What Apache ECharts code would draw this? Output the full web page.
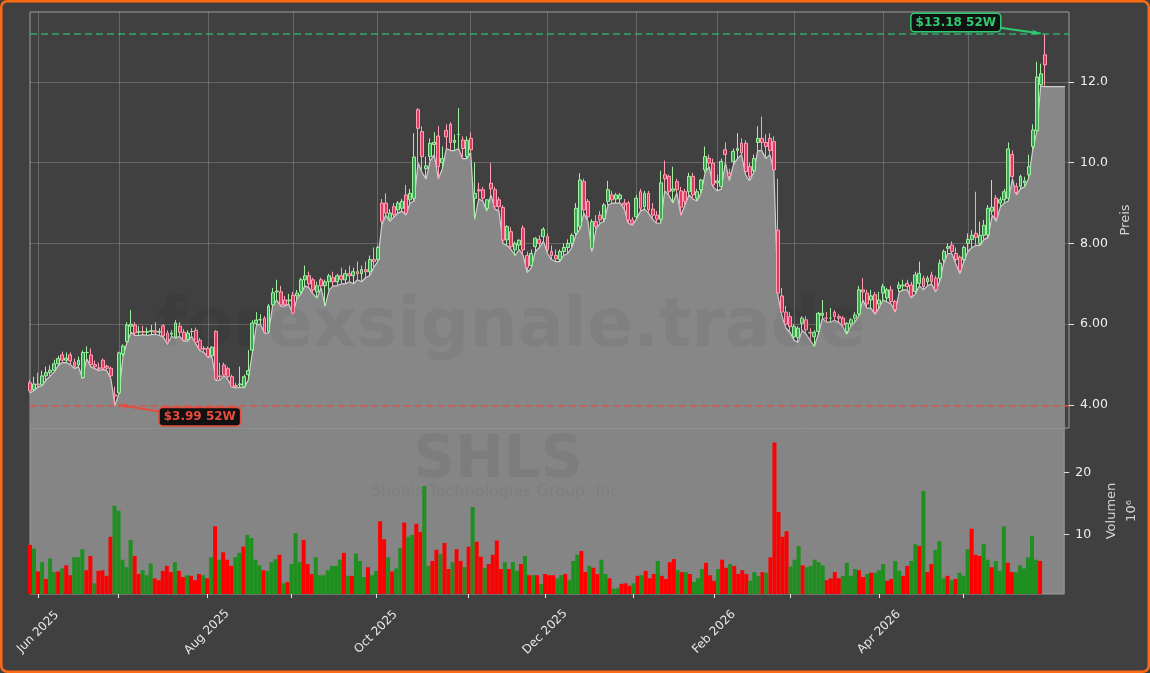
<!DOCTYPE html>
<html><head><meta charset="utf-8">
<script src="https://cdn.jsdelivr.net/npm/echarts@6/dist/echarts.min.js"></script>
<style>html,body{margin:0;padding:0;background:#404040;}#c{width:1150px;height:673px;}</style>
</head><body><div id="c"></div>
<script>
// ---------- data ----------
const opens = [
4.55,4.38,4.52,4.50,4.72,4.80,4.86,5.02,5.24,5.11,
5.24,5.06,4.99,4.68,5.30,5.24,5.00,4.92,5.11,4.96,
4.91,4.25,4.30,5.26,5.57,5.95,5.98,5.80,5.82,5.80,
5.82,5.84,5.80,5.96,5.78,5.75,5.68,5.95,5.80,5.62,
5.82,5.85,5.60,5.40,5.40,5.22,5.82,4.72,4.99,4.90,
4.70,4.48,4.50,4.45,4.75,5.36,6.02,6.11,6.15,5.82,
6.48,6.80,6.80,6.60,6.58,6.72,6.70,6.80,7.10,7.20,
7.10,6.80,7.10,6.95,7.05,7.15,7.05,7.20,7.10,7.25,
7.20,7.30,7.25,7.35,7.30,7.60,7.60,9.00,9.00,8.62,
8.91,8.83,8.87,9.20,9.08,9.12,11.31,10.77,9.85,10.15,
10.45,10.66,10.00,10.80,10.95,10.50,10.70,10.56,10.15,10.60,
9.12,9.33,9.33,8.87,9.49,9.33,9.08,8.89,8.09,8.29,
7.84,7.96,8.38,7.70,7.45,7.92,8.10,8.17,8.17,7.80,
7.70,7.60,7.80,7.90,8.00,8.25,8.42,9.53,9.04,7.88,
8.54,8.70,8.62,9.04,9.20,9.10,9.10,9.00,9.00,8.58,
8.66,9.28,8.91,9.24,8.85,8.70,8.60,9.70,9.66,9.30,
9.53,9.30,9.28,9.28,9.66,9.12,9.33,9.82,10.11,9.99,
9.50,9.41,10.32,9.74,10.03,10.30,10.48,10.48,9.90,9.80,
10.50,10.60,10.50,10.60,10.52,8.33,6.70,6.30,6.19,5.69,
5.67,6.02,6.11,5.80,5.69,5.82,6.22,6.15,6.15,6.30,
6.19,6.15,5.82,6.02,6.15,6.25,6.85,6.77,6.60,6.73,
6.50,6.77,6.65,6.85,6.56,6.89,6.95,7.01,6.97,6.81,
7.01,7.14,7.05,7.22,7.14,7.14,7.59,7.88,7.96,7.75,
7.66,7.60,8.00,8.10,8.25,8.00,8.20,8.21,8.80,9.12,
9.00,9.08,9.12,10.20,9.41,9.41,9.50,9.70,10.40,10.79,
11.93,12.67];
const highs = [
4.62,4.70,4.80,4.85,4.95,4.98,5.12,5.22,5.32,5.30,
5.30,5.15,5.20,5.35,5.45,5.40,5.10,5.05,5.15,5.00,
4.95,4.45,5.32,5.50,6.05,6.35,6.05,5.95,5.96,5.92,
5.98,6.05,5.90,6.00,5.85,5.85,6.10,6.05,5.88,5.85,
5.90,5.92,5.66,5.46,5.45,5.46,5.85,5.05,5.05,4.95,
4.75,4.55,4.95,4.75,5.36,6.10,6.30,6.25,6.20,6.50,
6.90,7.10,6.95,6.70,6.75,6.80,6.85,7.15,7.45,7.30,
7.15,7.05,7.15,7.10,7.25,7.30,7.25,7.40,7.35,7.45,
7.40,7.55,7.45,7.55,7.70,7.90,7.95,9.10,9.24,8.85,
9.00,9.05,9.10,9.45,9.35,10.73,11.35,10.90,10.15,10.60,
10.75,10.90,10.40,10.95,11.00,10.70,11.35,10.65,10.65,10.75,
10.00,9.50,9.40,9.10,9.99,9.40,9.15,8.95,8.45,8.40,
8.05,8.10,8.45,7.80,7.85,8.15,8.20,8.40,8.25,7.95,
7.85,7.85,8.00,8.10,8.25,9.00,9.74,9.60,9.10,8.60,
8.70,8.80,9.00,9.55,9.30,9.25,9.25,9.10,9.05,8.65,
9.20,9.35,9.30,9.30,9.00,8.80,9.80,10.05,9.70,9.90,
9.60,9.40,9.35,9.75,9.75,9.35,9.60,10.40,10.20,10.10,
9.70,10.10,10.50,9.85,10.35,10.73,10.60,10.55,10.00,10.20,
10.90,11.14,10.70,10.73,10.65,9.60,6.90,6.45,6.30,6.00,
5.95,6.20,6.20,5.90,5.85,6.30,6.60,6.30,6.40,6.35,
6.25,6.20,6.05,6.15,6.30,6.95,7.14,6.85,6.85,6.80,
6.80,7.00,6.90,6.95,6.60,7.05,7.10,7.10,7.05,7.30,
7.55,7.20,7.20,7.30,7.20,7.60,7.85,8.00,8.05,7.90,
7.70,7.95,8.25,8.33,9.28,8.54,8.58,8.95,9.57,9.20,
9.15,9.35,10.50,10.30,9.50,9.70,9.65,10.20,10.95,12.50,
12.45,13.18];
const lows = [
4.30,4.36,4.45,4.48,4.62,4.72,4.82,4.98,5.05,5.05,
5.00,4.90,4.95,4.65,5.15,4.95,4.90,4.85,4.88,4.85,
4.65,3.99,4.28,5.20,5.55,5.80,5.72,5.72,5.74,5.72,
5.74,5.75,5.72,5.68,5.50,5.70,5.65,5.70,5.58,5.58,
5.70,5.52,5.35,5.30,5.18,5.20,4.60,4.62,4.72,4.62,
4.45,4.42,4.44,4.42,4.62,5.30,5.98,6.00,5.78,5.78,
6.45,6.60,6.45,6.45,6.50,6.25,6.62,6.75,6.95,6.90,
6.75,6.65,6.90,6.45,6.85,6.95,6.95,7.00,7.00,7.05,
7.00,7.10,7.05,7.15,7.20,7.40,7.55,8.45,8.70,8.55,
8.65,8.75,8.80,8.70,9.00,9.05,10.00,9.75,9.60,10.05,
10.20,9.60,9.85,10.35,10.30,10.30,10.35,10.10,10.10,10.25,
8.60,9.10,9.05,8.80,9.20,8.85,8.80,8.00,7.95,7.85,
7.70,7.85,7.70,7.28,7.40,7.80,7.90,8.05,7.75,7.60,
7.55,7.55,7.70,7.75,7.90,8.20,8.35,8.75,8.55,7.80,
8.35,8.50,8.55,8.95,9.00,9.00,9.00,8.85,8.50,8.45,
8.60,8.80,8.85,8.75,8.60,8.50,8.50,9.30,9.20,9.00,
9.25,8.70,8.95,9.20,9.10,9.05,9.25,9.75,9.90,9.40,
9.30,9.35,10.00,9.55,9.95,10.10,10.20,9.70,9.55,9.75,
10.30,10.30,10.10,10.20,9.80,6.70,6.20,5.90,5.80,5.60,
5.55,5.85,5.75,5.60,5.45,5.75,6.15,6.05,6.05,6.10,
6.05,5.95,5.75,5.95,6.05,6.20,6.60,6.40,6.40,6.25,
6.40,6.60,6.55,6.50,6.30,6.80,6.85,6.85,6.65,6.75,
6.95,6.85,6.95,7.00,6.80,7.05,7.50,7.75,7.75,7.50,
7.25,7.55,7.80,7.90,7.95,7.95,8.10,8.15,8.70,8.55,
8.90,9.00,9.05,9.60,9.20,9.35,9.40,9.60,10.30,10.75,
11.90,11.88];
const closes = [
4.35,4.52,4.50,4.72,4.80,4.86,5.02,5.15,5.11,5.16,
5.09,4.96,5.11,5.30,5.30,5.00,4.95,4.90,4.91,4.91,
4.72,4.22,5.29,5.46,5.98,6.00,5.78,5.82,5.80,5.82,
5.84,5.80,5.82,5.71,5.55,5.78,6.03,5.80,5.60,5.78,
5.82,5.55,5.38,5.38,5.20,5.43,4.64,4.70,4.74,4.70,
4.45,4.46,4.52,4.70,4.85,6.03,6.10,6.11,5.80,6.45,
6.78,6.82,6.48,6.48,6.60,6.28,6.77,7.10,7.20,7.00,
6.85,6.95,6.95,7.05,7.20,7.05,7.20,7.10,7.25,7.20,
7.30,7.25,7.35,7.30,7.60,7.55,7.90,8.55,8.75,8.75,
8.71,9.00,9.04,8.75,9.24,10.14,10.85,10.15,9.92,10.48,
10.50,9.90,10.10,10.64,10.50,10.55,10.70,10.35,10.55,10.32,
9.24,9.30,9.12,9.08,9.35,8.91,8.91,8.08,8.42,7.92,
8.00,8.08,7.84,7.40,7.75,8.13,8.00,8.35,7.84,7.70,
7.62,7.80,7.90,8.00,8.20,8.87,9.57,8.83,8.66,8.54,
8.42,8.58,8.95,9.33,9.08,9.20,9.20,8.95,8.58,8.50,
9.12,8.87,9.24,8.83,8.70,8.60,9.50,9.60,9.28,9.35,
9.33,8.90,9.04,9.66,9.20,9.28,9.57,10.15,9.99,9.45,
9.55,10.03,10.20,9.66,10.28,10.35,10.24,9.78,9.66,10.10,
10.60,10.50,10.40,10.30,9.82,6.77,6.30,6.00,5.94,5.94,
5.90,6.15,5.86,5.78,5.80,6.27,6.27,6.15,6.15,6.19,
6.15,5.98,6.02,6.11,6.23,6.85,6.80,6.50,6.70,6.30,
6.60,6.93,6.85,6.56,6.36,6.97,6.97,6.93,6.69,7.22,
7.26,6.93,7.14,7.05,6.85,7.51,7.80,7.92,7.80,7.60,
7.33,7.90,8.10,8.20,8.15,8.20,8.45,8.87,8.90,8.63,
9.08,9.28,10.34,9.66,9.26,9.66,9.55,9.90,10.81,12.12,
12.20,12.42];
// low line keeps its last level for a few sessions after the last candle
const lowTail = [11.88, 11.88, 11.88, 11.88, 11.88];
// volume in millions
const volumes = [
8.3,7.7,4.0,5.5,2.8,6.1,3.9,4.0,4.5,5.0,
3.4,6.3,6.3,7.6,4.2,6.5,2.1,4.1,4.2,3.3,
9.6,14.6,13.8,5.9,4.7,9.1,6.5,3.6,4.2,3.4,
5.3,2.9,2.6,4.1,4.9,3.9,5.5,4.1,3.1,3.4,
3.3,2.6,3.6,3.4,2.9,6.3,11.3,5.9,7.1,5.9,
4.9,6.3,7.0,8.0,9.9,9.4,5.9,5.0,4.2,4.1,
5.5,6.0,6.7,2.1,2.3,5.2,10.2,5.5,9.1,5.2,
3.6,6.3,3.4,3.4,4.2,4.9,4.9,5.9,7.0,3.3,
3.3,6.9,5.7,3.1,4.7,3.4,4.1,12.1,9.2,6.3,
4.0,4.5,7.8,11.9,9.6,9.9,11.7,10.4,17.8,4.9,
5.7,7.5,6.8,8.6,4.4,5.5,7.6,5.7,4.7,8.0,
14.4,8.8,6.4,4.6,5.2,6.7,9.0,4.4,5.5,4.4,
5.5,4.1,5.2,6.5,3.4,3.4,3.4,2.0,3.6,3.4,
3.4,2.9,3.4,3.6,2.6,5.7,6.7,7.3,3.9,4.9,
4.6,3.6,5.9,3.6,2.9,1.2,1.3,2.0,2.1,1.7,
2.1,3.3,3.4,4.1,2.9,3.6,5.7,3.3,2.8,5.5,
6.0,4.2,3.9,3.9,3.6,2.3,2.9,4.4,5.4,3.4,
2.5,4.4,5.9,4.6,5.2,4.9,3.6,4.2,3.6,2.5,
3.9,3.3,3.9,3.8,6.3,24.8,13.6,9.6,10.5,4.8,
5.9,8.1,5.0,4.7,4.9,5.9,5.5,5.0,2.6,2.9,
3.9,2.9,3.3,5.4,3.3,4.4,4.2,3.1,3.6,3.8,
3.8,4.2,5.2,2.5,2.8,5.7,4.1,3.3,4.9,5.7,
8.4,8.1,17.0,3.9,5.2,7.5,8.9,2.9,3.3,2.6,
2.8,3.8,3.3,7.6,10.9,6.7,6.5,8.4,5.9,4.7,
5.7,4.1,11.3,5.4,3.9,3.9,5.0,4.5,6.3,9.7,
5.9,5.7];
// 1 = green bar, 0 = red bar
const volumeUp = [
0,1,0,1,0,1,1,0,1,0,
0,1,1,1,0,0,1,0,0,0,
0,1,1,1,1,1,0,0,1,1,
1,0,0,0,0,0,1,0,0,1,
0,0,0,1,0,1,0,1,0,0,
0,1,1,0,1,1,1,1,0,1,
1,1,0,1,0,1,1,1,0,0,
0,1,1,1,1,1,1,1,0,1,
0,1,1,1,0,1,1,0,0,1,
0,1,1,0,1,1,0,0,1,1,
0,0,1,0,0,1,0,0,1,0,
1,0,0,1,0,0,0,0,1,0,
1,1,0,1,0,1,0,1,0,0,
0,1,1,0,1,1,1,0,0,1,
0,0,1,1,0,1,1,0,0,0,
1,0,1,0,0,0,1,0,0,0,
0,1,0,1,0,1,1,1,0,0,
0,1,0,0,1,0,0,0,0,1,
1,1,0,1,0,0,0,0,0,1,
1,1,0,1,1,1,1,1,0,0,
0,0,1,1,1,1,0,0,1,0,
1,1,1,0,0,1,1,0,0,1,
1,0,1,0,0,1,1,1,0,1,
0,1,1,1,0,0,0,1,1,0,
1,1,1,0,0,1,1,1,1,1,
1,0];
const priceTicks = [4, 6, 8, 10, 12];
const priceTickLabels = ['4.00', '6.00', '8.00', '10.0', '12.0'];
const volumeTicks = [10, 20];
const volumeTickLabels = ['10', '20'];
const monthNames = ['Jan','Feb','Mar','Apr','May','Jun','Jul','Aug','Sep','Oct','Nov','Dec'];
const holidays = ['2025-06-19','2025-07-04','2025-09-01','2025-11-27','2025-12-25',
                  '2026-01-01','2026-01-19','2026-02-16','2026-04-03','2026-05-25'];
const firstSession = '2025-05-29';
const high52 = { value: 13.18, text: '$13.18 52W', box: [229, 13.47], from: [240, 13.34], to: [250, 13.20] };
const low52  = { value: 3.99,  text: '$3.99 52W',  box: [42, 3.71],   from: [32, 3.84],   to: [22, 4.00] };

// ---------- build ----------
const FONT = 'DejaVu Sans';
const nCandles = opens.length;
const nCats = nCandles + lowTail.length + 1;
const holidaySet = new Set(holidays);
const dates = [];
(function () {
  const d = new Date(firstSession + 'T00:00:00Z');
  while (dates.length < nCats) {
    const wd = d.getUTCDay();
    const iso = d.toISOString().slice(0, 10);
    if (wd !== 0 && wd !== 6 && !holidaySet.has(iso)) dates.push(iso);
    d.setUTCDate(d.getUTCDate() + 1);
  }
})();
const monthStart = dates.map((s, i) => i > 0 && i < nCandles && s.slice(5, 7) !== dates[i - 1].slice(5, 7));
const labelled = dates.map((s, i) => monthStart[i] && (parseInt(s.slice(5, 7), 10) - 1) % 2 === 1);
const fmtDate = s => monthNames[parseInt(s.slice(5, 7), 10) - 1] + ' ' + s.slice(0, 4);

const ohlc = opens.map((o, i) => [o, closes[i], lows[i], highs[i]]);
const lowArea = lows.concat(lowTail).concat([null]);
const volData = volumes.map((v, i) => ({ value: v, itemStyle: { color: volumeUp[i] ? '#1f901f' : '#ff0000' } }));

const GREEN = '#2ecc71', RED = '#e74c3c';
const boxLabel = (c) => ({
  show: true, position: 'inside', formatter: '{b}', color: c, fontFamily: FONT, fontWeight: 'bold',
  fontSize: 12, backgroundColor: '#111111', borderColor: c, borderWidth: 1.5, borderRadius: 3,
  padding: [3, 4, 2, 4]
});

const chart = echarts.init(document.getElementById('c'), null, { renderer: 'canvas' });
chart.setOption({
  animation: false,
  backgroundColor: '#404040',
  grid: [
    { left: 30, top: 12, width: 1039, height: 416, show: true, borderColor: '#9c9c9c', borderWidth: 1, backgroundColor: 'transparent' },
    { left: 30, top: 428, width: 1039, height: 166, show: true, borderColor: '#9c9c9c', borderWidth: 1, backgroundColor: '#858585' }
  ],
  xAxis: [
    { type: 'category', gridIndex: 0, data: dates, boundaryGap: false,
      axisLine: { show: false }, axisTick: { show: false }, axisLabel: { show: false },
      splitLine: { show: true, interval: (i) => monthStart[i], lineStyle: { color: 'rgba(255,255,255,0.2)', width: 1 } } },
    { type: 'category', gridIndex: 1, data: dates, boundaryGap: false,
      axisLine: { show: false },
      axisTick: { show: true, interval: (i) => monthStart[i], length: 4, lineStyle: { color: '#e8e8e8' } },
      axisLabel: { show: true, interval: (i) => labelled[i], rotate: 45, align: 'center', verticalAlign: 'middle',
        margin: 38, color: '#e8e8e8', fontSize: 12, fontFamily: FONT, formatter: fmtDate },
      splitLine: { show: false } }
  ],
  yAxis: [
    { type: 'value', gridIndex: 0, position: 'right', min: 3.43, max: 13.73,
      axisLine: { show: false },
      axisTick: { show: true, customValues: priceTicks, length: 5, lineStyle: { color: '#e0e0e0' } },
      axisLabel: { show: true, customValues: priceTicks, margin: 11, color: '#eeeeee', fontSize: 12.5, fontFamily: FONT,
        formatter: v => priceTickLabels[priceTicks.indexOf(v)] },
      splitLine: { show: true, lineStyle: { color: 'rgba(255,255,255,0.2)', width: 1 } },
      name: 'Preis', nameLocation: 'middle', nameGap: 45,
      nameTextStyle: { color: '#d4d4d4', fontSize: 13, fontFamily: FONT } },
    { type: 'value', gridIndex: 1, position: 'right', min: 0.37, max: 27.15,
      axisLine: { show: false },
      axisTick: { show: true, customValues: volumeTicks, length: 5, lineStyle: { color: '#e0e0e0' } },
      axisLabel: { show: true, customValues: volumeTicks, margin: 11, color: '#eeeeee', fontSize: 12.5, fontFamily: FONT,
        formatter: v => volumeTickLabels[volumeTicks.indexOf(v)] },
      splitLine: { show: false },
      name: 'Volumen\n10⁶', nameLocation: 'middle', nameGap: 24,
      nameTextStyle: { color: '#d4d4d4', fontSize: 13, fontFamily: FONT, lineHeight: 20 } }
  ],
  series: [
    { type: 'line', name: 'Tief', xAxisIndex: 0, yAxisIndex: 0, data: lowArea, symbol: 'none', z: 2,
      lineStyle: { color: '#d0d0d0', width: 1.2 },
      areaStyle: { color: '#878787', opacity: 1, origin: 'start' } },
    { type: 'candlestick', name: 'SHLS', xAxisIndex: 0, yAxisIndex: 0, data: ohlc, barWidth: 3.4, z: 3,
      itemStyle: { color: '#3aa856', color0: '#e33a62', borderColor: '#a0f0a0', borderColor0: '#ffa0b6', borderWidth: 1 },
      markLine: { silent: true, symbol: 'none', label: { show: false },
        data: [
          { yAxis: high52.value, lineStyle: { color: GREEN, type: [7, 4], width: 1.5, opacity: 0.75 } },
          { yAxis: low52.value, lineStyle: { color: RED, type: [7, 4], width: 1.5, opacity: 0.8 } }
        ] } },
    { type: 'bar', name: 'Volumen', xAxisIndex: 1, yAxisIndex: 1, data: volData, barWidth: 4, z: 2 },
    { type: 'line', name: 'ann', xAxisIndex: 0, yAxisIndex: 0, data: [], z: 10, silent: true,
      markLine: { silent: true, symbol: ['none', 'arrow'], symbolSize: [4, 9], label: { show: false },
        data: [
          [{ coord: high52.from, lineStyle: { color: GREEN, width: 2, type: 'solid' } }, { coord: high52.to }],
          [{ coord: low52.from, lineStyle: { color: RED, width: 2, type: 'solid' } }, { coord: low52.to }]
        ] },
      markPoint: { silent: true, symbol: 'rect', symbolSize: 1, itemStyle: { color: 'rgba(0,0,0,0)' },
        data: [
          { name: high52.text, coord: high52.box, label: boxLabel(GREEN) },
          { name: low52.text, coord: low52.box, label: boxLabel(RED) }
        ] } }
  ],
  graphic: [
    { type: 'text', x: 157, y: 328, z: 50, silent: true,
      style: { text: 'forexsignale.trade', fill: 'rgba(0,0,0,0.05)', fontFamily: FONT, fontWeight: 'bold', fontSize: 68,
        textAlign: 'left', textVerticalAlign: 'middle' } },
    { type: 'text', x: 498, y: 462, z: 50, silent: true,
      style: { text: 'SHLS', fill: 'rgba(0,0,0,0.06)', fontFamily: FONT, fontWeight: 'bold', fontSize: 58,
        textAlign: 'center', textVerticalAlign: 'middle' } },
    { type: 'text', x: 495, y: 492, z: 50, silent: true,
      style: { text: 'Shoals Technologies Group, Inc', fill: 'rgba(0,0,0,0.05)', fontFamily: FONT, fontSize: 16,
        textAlign: 'center', textVerticalAlign: 'middle' } },
    { type: 'rect', z: 200, silent: true, shape: { x: 1.25, y: 1.25, width: 1147.5, height: 670.5, r: 6 },
      style: { fill: 'none', stroke: '#ff6a13', lineWidth: 2.5 } }
  ]
});
</script></body></html>
